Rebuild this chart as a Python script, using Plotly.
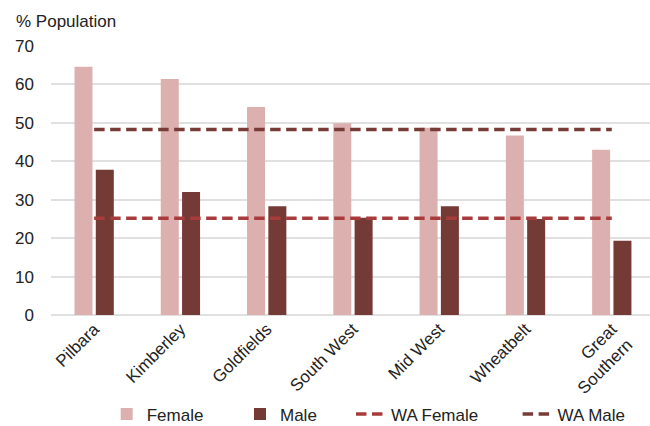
import plotly.graph_objects as go

# Regions of Western Australia (two-line label for the last one)
regions = ["Pilbara", "Kimberley", "Goldfields", "South West", "Mid West",
           "Wheatbelt", "Great<br>Southern"]

# Share of population (%)
female = [64.6, 61.4, 54.1, 49.9, 48.7, 46.7, 43.0]
male = [37.8, 32.0, 28.3, 25.3, 28.3, 25.0, 19.3]

# State-wide reference levels
wa_female = [25.2, 25.2, 25.2, 25.2, 25.2, 25.2, 25.2]
wa_male = [48.3, 48.3, 48.3, 48.3, 48.3, 48.3, 48.3]

y_ticks = [0, 10, 20, 30, 40, 50, 60, 70]

FONT = "Liberation Sans, Arial, sans-serif"
C_FEMALE = "#DDB0B0"
C_MALE = "#743A35"
C_WA_FEMALE = "#A83C3C"
C_WA_MALE = "#773C37"

fig = go.Figure()
fig.add_trace(go.Bar(x=regions, y=female, name="Female",
                     marker=dict(color=C_FEMALE, line=dict(width=0)),
                     legend="legend"))
fig.add_trace(go.Bar(x=regions, y=male, name="Male",
                     marker=dict(color=C_MALE, line=dict(width=0)),
                     legend="legend2"))
fig.add_trace(go.Scatter(x=regions, y=wa_female, name="WA Female", mode="lines",
                         line=dict(color=C_WA_FEMALE, width=3.5, dash="10.5px,5.5px"),
                         legend="legend3"))
fig.add_trace(go.Scatter(x=regions, y=wa_male, name="WA Male", mode="lines",
                         line=dict(color=C_WA_MALE, width=3.5, dash="10.5px,5.5px"),
                         legend="legend4"))

legend_common = dict(orientation="h", yanchor="top", y=-0.303, xanchor="left",
                     font=dict(family=FONT, size=17, color="#222222"),
                     bgcolor="rgba(0,0,0,0)", borderwidth=0)

fig.update_layout(
    width=650, height=426,
    margin=dict(l=51, r=0, t=46, b=111, autoexpand=False),
    paper_bgcolor="white", plot_bgcolor="white",
    barmode="group", bargap=0.506, bargroupgap=0.155,
    font=dict(family=FONT, size=17, color="#222222"),
    showlegend=True,
    legend=dict(x=0.093, **legend_common),
    legend2=dict(x=0.3155, **legend_common),
    legend3=dict(x=0.5008, **legend_common),
    legend4=dict(x=0.779, **legend_common),
    xaxis=dict(range=[-0.5, 6.443], tickangle=-45, showgrid=False,
               showline=False, ticks="", tickfont=dict(size=17),
               automargin=False),
    yaxis=dict(range=[0, 70], tickvals=y_ticks, showgrid=True,
               gridcolor="#E0E0E0", gridwidth=1.6, zeroline=True,
               zerolinecolor="#E0E0E0", zerolinewidth=1.6, showline=False,
               ticks="", ticklabelstandoff=16, tickfont=dict(size=17),
               automargin=False),
    annotations=[dict(text="% Population", xref="paper", yref="paper",
                      x=-0.0618, y=1.0, xanchor="left", yanchor="bottom",
                      yshift=13, showarrow=False,
                      font=dict(family=FONT, size=17, color="#222222"))],
)

fig.write_html("out.html")
